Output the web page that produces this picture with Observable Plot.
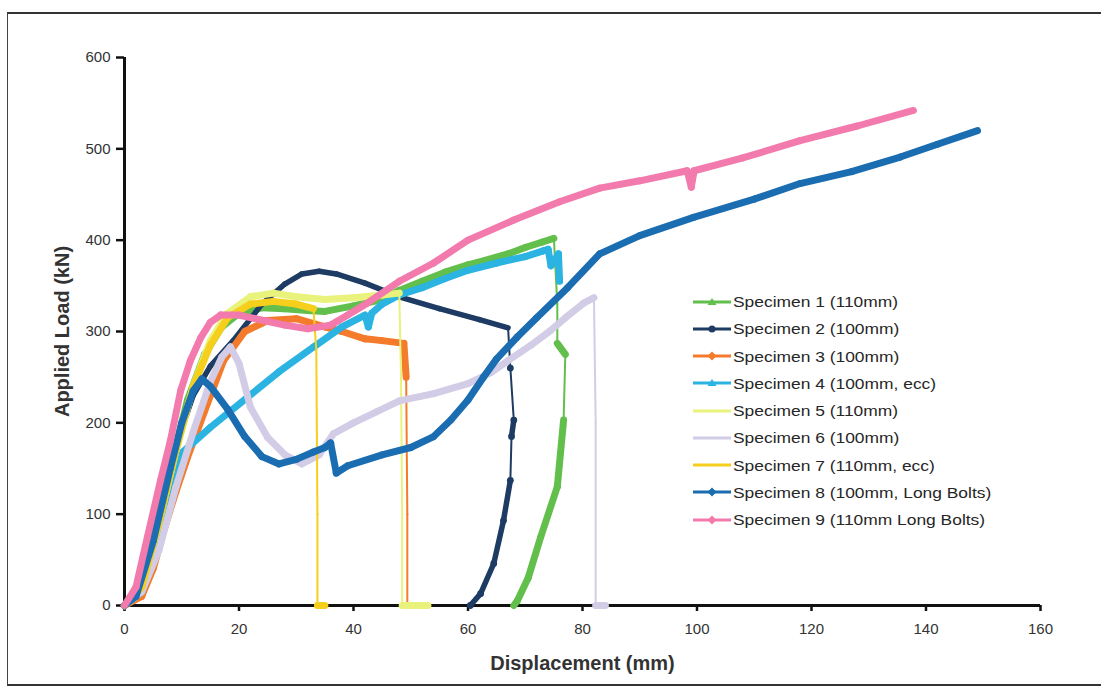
<!DOCTYPE html>
<html><head><meta charset="utf-8">
<script src="https://cdn.jsdelivr.net/npm/d3@7"></script>
<script src="https://cdn.jsdelivr.net/npm/@observablehq/plot@0.6"></script>
<style>
body{margin:0;background:#fff;}
#wrap{position:relative;width:1101px;height:687px;overflow:hidden;font-family:"Liberation Sans",Arial,sans-serif;background:#fff;}
#frame{position:absolute;left:7px;top:12px;width:1100px;height:670px;border-left:1.5px solid #444;border-top:2px solid #333;border-bottom:2px solid #333;}
#chart{position:absolute;left:0;top:0;}
#legend{position:absolute;left:693px;top:288px;}
.row{height:27.25px;display:flex;align-items:center;font-size:15px;color:#262626;white-space:nowrap;}
.row span{display:inline-block;transform:scaleX(1.16);transform-origin:left center;}
.row svg{margin-right:2px;}
g[aria-label="x-axis label"] text, g[aria-label="y-axis label"] text{font-weight:bold;font-size:20px;fill:#333;}
</style>
</head><body>
<div id="wrap"><div id="frame"></div><div id="chart"></div><div id="legend"></div></div>
<script>
const names = ["Specimen 1 (110mm)","Specimen 2 (100mm)","Specimen 3 (100mm)","Specimen 4 (100mm, ecc)","Specimen 5 (110mm)","Specimen 6 (100mm)","Specimen 7 (110mm, ecc)","Specimen 8 (100mm, Long Bolts)","Specimen 9 (110mm Long Bolts)"];
const colors = ["#62bf4c","#1d3b63","#f37b2b","#2bb3e2","#e9f27a","#d2cce6","#f6cf1c","#1b6db1","#f27aac"];
const xTicks = [0,20,40,60,80,100,120,140,160];
const yTicks = [0,100,200,300,400,500,600];

// [displacement (mm), load (kN)]
const s1 = [[0,0],[2,8],[5,70],[8,150],[11,225],[14,275],[17,305],[20,320],[24,326],[28,325],[32,323],[35,322],[40,328],[45,335],[48,345],[52,355],[56,365],[60,373],[63,378],[67,385],[70,392],[73,398],[75,402],[75.6,330],[75.6,287],[77,275],[76.7,203],[75.6,130],[72.7,75],[70.5,30],[68.6,5],[68,0]];
const s2 = [[0,0],[3,30],[6,110],[9,175],[12,230],[15,262],[19,290],[24,330],[28,352],[31,363],[34,366],[37,363],[42,353],[48,338],[55,325],[62,313],[67,304],[67.4,260],[68,203],[67.6,185],[67.4,137],[66.2,93],[64.5,46],[62.2,13],[60.4,0]];
const s3 = [[0,0],[3,10],[5,40],[7,85],[9,125],[11,162],[14,213],[17.3,268],[21,300],[25,312],[30,314],[35,305],[38,300],[42,292],[45,290],[48.8,287],[49.2,250],[49.4,100],[49.4,0]];
const s4 = [[0,0],[3,15],[6,70],[8,125],[9.8,166],[15,195],[21.5,228],[27,256],[33,283],[38,305],[42,318],[42.6,305],[43.2,320],[45,330],[48,340],[52,348],[56,358],[60,367],[65,375],[70,382],[73,388],[74,390],[74.5,372],[75.8,385],[76,355]];
const s5 = [[0,0],[3,20],[6,90],[9,170],[12,240],[15,290],[18,320],[22,338],[26,342],[30,338],[35,335],[40,337],[45,340],[48,342],[48.3,250],[48.5,100],[48.5,0],[50,0],[53,0]];
const s6 = [[0,0],[3,15],[6,60],[9,130],[12,190],[15,245],[17,272],[18.5,283],[20,265],[22,217],[25,184],[28,165],[31,155],[34,165],[36.5,188],[40,200],[44,212],[48,224],[54,232],[60,243],[64,255],[67,268],[71,285],[74.4,301],[77,315],[80.2,331],[82,337],[82.3,200],[82.3,0],[84,0]];
const s7 = [[0,0],[3,20],[6,90],[9,170],[12,240],[15,285],[18,315],[22,330],[26,333],[30,330],[33,325],[33.5,280],[33.7,100],[33.7,0],[35,0]];
const s8 = [[0,0],[2,10],[5,70],[8,150],[10,200],[12,235],[13.5,248],[15,240],[18,215],[21,185],[24,163],[27,155],[30,160],[33,168],[35,173],[36,178],[37,145],[39,153],[45,165],[50,173],[54,185],[57,203],[60,225],[62.7,250],[65,270],[68.6,294],[72,315],[77.4,348],[83,385],[90,405],[99.4,425],[110,445],[118,462],[127,475],[135.5,491],[142,505],[149,520]];
const s9 = [[0,0],[2,20],[4,75],[6.3,137],[8,180],[9.8,235],[11.5,268],[13.3,293],[15,310],[16.8,318],[20,318],[24.3,312],[28,307],[32,303],[36,307],[39,318],[42.4,331],[48,355],[54,375],[60,400],[68,422],[76,442],[83,457],[90,465],[98.3,476],[99,458],[99.5,476],[108,490],[118,509],[128,525],[137.8,542]];

const series = [s1,s2,s3,s4,s5,s6,s7,s8,s9];
const segs = [];
series.forEach((s,k)=>{
  for(let i=1;i<s.length;i++){
    const [xa,ya]=s[i-1],[xb,yb]=s[i];
    const vertical = Math.abs(xb-xa)<=0.8 && Math.abs(yb-ya)>=40;
    const base = k===1 ? 5.5 : 7;
    segs.push({name:names[k],x1:xa,y1:ya,x2:xb,y2:yb,w: vertical?2:base});
  }
});
// navy unloading markers
const imax = s2.reduce((m,p,i)=>p[0]>s2[m][0]?i:m,0);
const navyDots = s2.slice(imax-1).map(p=>({x:p[0],y:p[1]}));

const chart = Plot.plot({
  width:1101,height:687,marginLeft:124,marginRight:61,marginTop:57,marginBottom:82,
  style:{fontFamily:"Liberation Sans, Arial, sans-serif",fontSize:"15px",color:"#333",background:"transparent"},
  x:{domain:[0,160]},
  y:{domain:[0,600]},
  color:{domain:names,range:colors},
  marks:[
    Plot.axisX({ticks:xTicks,tickSize:6,tickPadding:12,strokeWidth:2.5,stroke:"#111",fontSize:15,fontFamily:"Liberation Sans Narrow, Liberation Sans, Arial",label:"Displacement (mm)",labelAnchor:"center",labelOffset:64,labelArrow:"none"}),
    Plot.axisY({ticks:yTicks,tickSize:8,tickPadding:6,strokeWidth:2.5,stroke:"#111",fontSize:15,label:"Applied Load (kN)",labelAnchor:"center",labelOffset:70,labelArrow:"none"}),
    Plot.ruleX([0],{stroke:"#111",strokeWidth:3}),
    Plot.ruleY([0],{stroke:"#111",strokeWidth:3}),
    Plot.link(segs,{x1:"x1",y1:"y1",x2:"x2",y2:"y2",stroke:"name",strokeWidth:"w",strokeLinecap:"round"}),
    Plot.dot(navyDots,{x:"x",y:"y",r:3.4,fill:colors[1],stroke:"none"})
  ]
});
document.getElementById("chart").appendChild(chart);

// legend
const marker = ["tri","circle","diamond","tri",null,null,null,"diamond","diamond"];
const leg = document.getElementById("legend");
names.forEach((n,i)=>{
  const row=document.createElement("div");row.className="row";
  let m="";
  if(marker[i]==="circle") m=`<circle cx="19" cy="8" r="3.5" fill="${colors[i]}"/>`;
  else if(marker[i]==="diamond") m=`<path d="M19 3.5 L23.5 8 L19 12.5 L14.5 8Z" fill="${colors[i]}"/>`;
  else if(marker[i]==="tri") m=`<path d="M19 4 L23.5 11 L14.5 11Z" fill="${colors[i]}"/>`;
  row.innerHTML=`<svg width="38" height="16"><line x1="0" y1="8" x2="38" y2="8" stroke="${colors[i]}" stroke-width="3"/>${m}</svg><span>${n}</span>`;
  leg.appendChild(row);
});
</script>
</body></html>
